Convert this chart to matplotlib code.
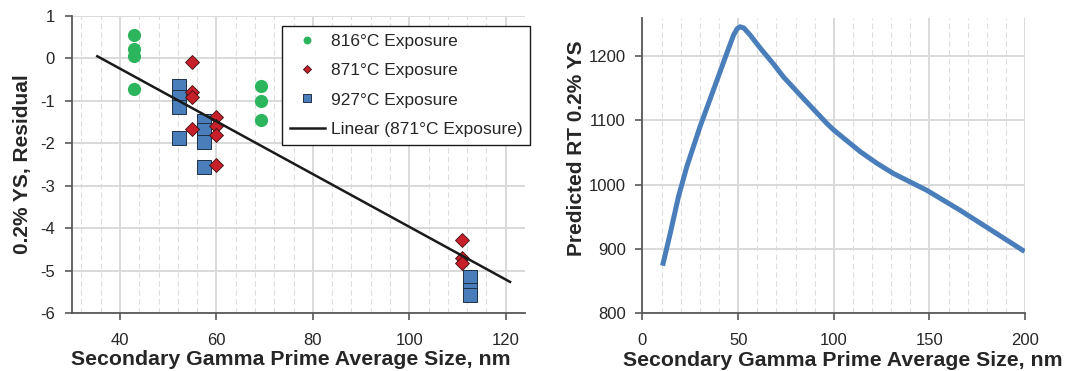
import numpy as np
import matplotlib
matplotlib.use("Agg")
import matplotlib.pyplot as plt
from matplotlib.ticker import MultipleLocator

plt.rcParams['font.family'] = ['Liberation Sans', 'DejaVu Sans']
plt.rcParams['axes.unicode_minus'] = False

# ---- Left chart data: residuals vs secondary gamma prime size ----
x816 = [43, 43, 43, 43, 69.3, 69.3, 69.3]
y816 = [0.54, 0.21, 0.05, -0.71, -0.64, -1.0, -1.45]

x871 = [55, 55, 55, 55, 60, 60, 60, 60, 110.9, 110.9, 110.9]
y871 = [-0.09, -0.79, -0.92, -1.66, -1.37, -1.59, -1.81, -2.51, -4.27, -4.71, -4.83]

x927 = [52.3, 52.3, 52.3, 52.3, 57.5, 57.5, 57.5, 57.5, 112.6, 112.6, 112.6]
y927 = [-0.65, -0.9, -1.14, -1.88, -1.47, -1.69, -1.96, -2.56, -5.15, -5.45, -5.58]

trend_x_range = [35.3, 120.9]   # extent of the Excel trendline (with forecast)

# ---- Right chart data: predicted RT 0.2% YS curve ----
size_nm = [10.5, 14.5, 18.8, 23.2, 30.1, 37.1, 44.1, 47.6, 49.5, 51.0, 53.0, 56.3, 61.5, 68.5,
           73.7, 82.4, 96.3, 99.8, 113.8, 122.5, 131.2, 148.6, 166.0, 183.4, 199.7]
pred_ys = [874, 924, 981, 1028, 1090, 1147, 1204, 1232, 1242, 1245, 1243, 1232, 1212, 1187,
           1167, 1139, 1095, 1085, 1051, 1033, 1017, 991, 960, 927, 896]

green = '#2db55d'
red = '#c8202a'
blue = '#4a7ebb'
grid_major = '#d9d9d9'
grid_minor = '#dedede'
spine_c = '#595959'
text_c = '#262626'

fig = plt.figure(figsize=(10.69, 3.71), dpi=100)
ax1 = fig.add_axes([0.0671, 0.156, 0.4240, 0.801])
ax2 = fig.add_axes([0.601, 0.1555, 0.358, 0.795])

def style(ax):
    for s in ['top', 'right']:
        ax.spines[s].set_visible(False)
    for s in ['left', 'bottom']:
        ax.spines[s].set_color(spine_c)
        ax.spines[s].set_linewidth(1.3)
    ax.tick_params(axis='both', which='major', direction='out', length=5, width=1.2,
                   color=spine_c, labelsize=12, labelcolor=text_c)
    ax.tick_params(axis='x', which='major', pad=9)
    ax.tick_params(axis='y', which='major', pad=7)
    ax.tick_params(axis='both', which='minor', length=0)
    ax.set_axisbelow(True)

# ---- Left ----
style(ax1)
ax1.set_xlim(30, 124)
ax1.set_ylim(-6, 1)
ax1.xaxis.set_major_locator(MultipleLocator(20))
ax1.xaxis.set_minor_locator(MultipleLocator(4))
ax1.yaxis.set_major_locator(MultipleLocator(1))
ax1.grid(True, which='major', color=grid_major, lw=1.4, ls='-')
ax1.grid(True, which='minor', axis='x', color=grid_minor, lw=0.8, ls=(0, (5, 3)))

ax1.plot(x816, y816, 'o', ms=9.5, color=green, mec='none', label='816°C Exposure', zorder=3)
ax1.plot(x871, y871, 'D', ms=7.2, color=red, mec='#3a1010', mew=0.6, label='871°C Exposure', zorder=4)
ax1.plot(x927, y927, 's', ms=9.8, color=blue, mec='#1f2f45', mew=0.7, label='927°C Exposure', zorder=3)

coef = np.polyfit(x871, y871, 1)
tx = np.array(trend_x_range)
ax1.plot(tx, np.polyval(coef, tx), color='#1a1a1a', lw=1.8, label='Linear (871°C Exposure)', zorder=5)

handles, labels = ax1.get_legend_handles_labels()
leg = ax1.legend(handles, labels, loc='upper left', bbox_to_anchor=(0.464, 0.967),
                 fontsize=12.5, frameon=True, fancybox=False, edgecolor='#1a1a1a',
                 framealpha=1, markerscale=0.6, handlelength=2.0, labelspacing=0.82,
                 borderpad=0.45, handletextpad=0.35, borderaxespad=0)
leg.get_frame().set_linewidth(1.0)
for t in leg.get_texts():
    t.set_color(text_c)

ax1.set_xlabel('Secondary Gamma Prime Average Size, nm', fontsize=15.3, fontweight='bold',
               color=text_c)
ax1.xaxis.set_label_coords(0.484, -0.125)
ax1.set_ylabel('0.2% YS, Residual', fontsize=15, fontweight='bold', color=text_c, labelpad=6)

# ---- Right ----
style(ax2)
ax2.set_xlim(0, 200)
ax2.set_ylim(800, 1258)
ax2.xaxis.set_major_locator(MultipleLocator(50))
ax2.xaxis.set_minor_locator(MultipleLocator(10))
ax2.yaxis.set_major_locator(MultipleLocator(100))
ax2.grid(True, which='major', color=grid_major, lw=1.4, ls='-')
ax2.grid(True, which='minor', axis='x', color=grid_minor, lw=0.8, ls=(0, (5, 3)))
ax2.plot(size_nm, pred_ys, color=blue, lw=3.6, solid_capstyle='butt',
         solid_joinstyle='round', zorder=3)

ax2.set_xlabel('Secondary Gamma Prime Average Size, nm', fontsize=15.3, fontweight='bold',
               color=text_c)
ax2.xaxis.set_label_coords(0.524, -0.127)
ax2.set_ylabel('Predicted RT 0.2% YS', fontsize=15, fontweight='bold', color=text_c)
ax2.yaxis.set_label_coords(-0.147, 0.559)

fig.savefig('out.png', dpi=100)
